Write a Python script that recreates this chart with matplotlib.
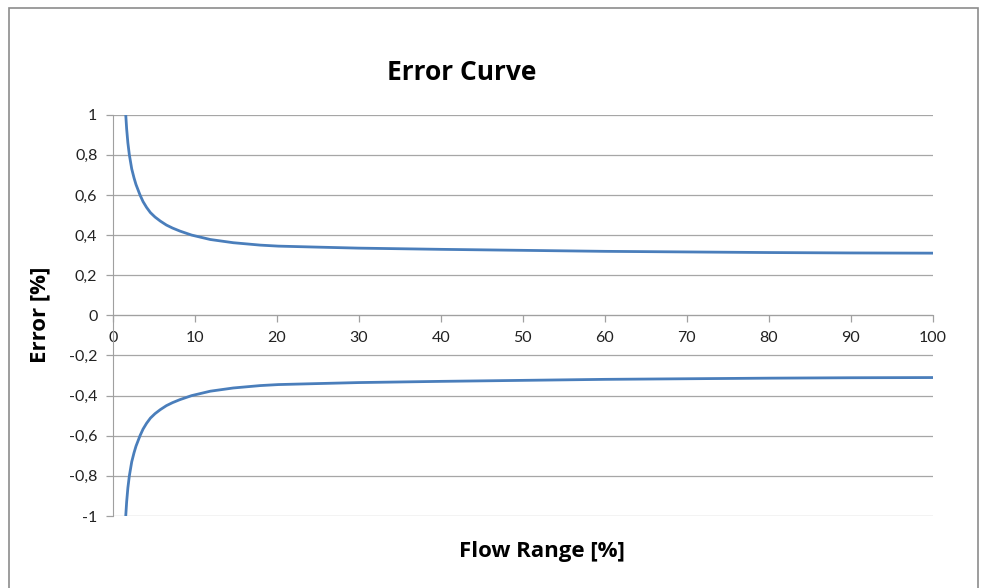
import matplotlib
matplotlib.use("Agg")
import matplotlib.pyplot as plt
from matplotlib.patches import Rectangle

# values
flow = [1.59, 1.7, 1.85, 2.03, 2.32, 2.6, 2.84, 3.33, 3.7, 4.13, 4.6, 5.16, 5.8, 6.55, 7.3,
        8.2, 9.63, 11.9, 14.7, 18, 20.2, 25, 30, 40, 50, 60, 70, 80, 90, 100]
err_upper = [1.0, 0.93, 0.86, 0.8, 0.73, 0.685, 0.652, 0.6, 0.567, 0.538, 0.512, 0.49, 0.47,
             0.45, 0.435, 0.42, 0.40, 0.378, 0.362, 0.35, 0.345, 0.34, 0.335, 0.329,
             0.324, 0.319, 0.316, 0.313, 0.311, 0.31]
err_lower = [-v for v in err_upper]

x_ticks = [0, 10, 20, 30, 40, 50, 60, 70, 80, 90, 100]
y_ticks = [-1, -0.8, -0.6, -0.4, -0.2, 0, 0.2, 0.4, 0.6, 0.8, 1]

plt.rcParams["font.family"] = ["Lato", "DejaVu Sans"]

W, H = 981, 588
fig = plt.figure(figsize=(W / 100, H / 100), dpi=100)
ax = fig.add_axes([112.7 / W, 1 - 516 / H, 820 / W, (516 - 114.7) / H])

LINE = "#4a7ebb"
ax.plot(flow, err_upper, color=LINE, lw=2.0, solid_joinstyle="round")
ax.plot(flow, err_lower, color=LINE, lw=2.0, solid_joinstyle="round")

ax.set_xlim(0, 100)
ax.set_ylim(-1, 1)
ax.set_xticks(x_ticks)
ax.set_yticks(y_ticks)
ax.set_yticklabels([("%g" % v).replace(".", ",") for v in y_ticks])
ax.grid(axis="y", color="#a6a6a6", lw=0.9)
ax.set_axisbelow(True)

for s in ("top", "right"):
    ax.spines[s].set_visible(False)
ax.spines["bottom"].set_position(("data", 0))
ax.spines["bottom"].set_color("#a0a0a0")
ax.spines["left"].set_color("#a0a0a0")
ax.tick_params(axis="both", colors="#a0a0a0", labelcolor="#222222",
               labelsize=11.5, length=5, width=0.9)
ax.tick_params(axis="x", pad=6)
ax.tick_params(axis="y", pad=6)

bold = ["Open Sans", "DejaVu Sans"]
fig.text(462 / W, 1 - 72 / H, "Error Curve", ha="center", va="center",
         fontsize=19, fontweight="bold", family=bold)
fig.text(542 / W, 1 - 551 / H, "Flow Range [%]", ha="center", va="center",
         fontsize=16, fontweight="bold", family=bold)
fig.text(40 / W, 1 - 315 / H, "Error [%]", ha="center", va="center",
         rotation=90, fontsize=16, fontweight="bold", family=bold)

fig.patches.append(Rectangle((9 / W, -0.05), (978 - 9) / W, 1.05 - 8 / H,
                             transform=fig.transFigure, fill=False,
                             edgecolor="#8c8c8c", lw=1.2))

fig.savefig("out.png", dpi=100)
